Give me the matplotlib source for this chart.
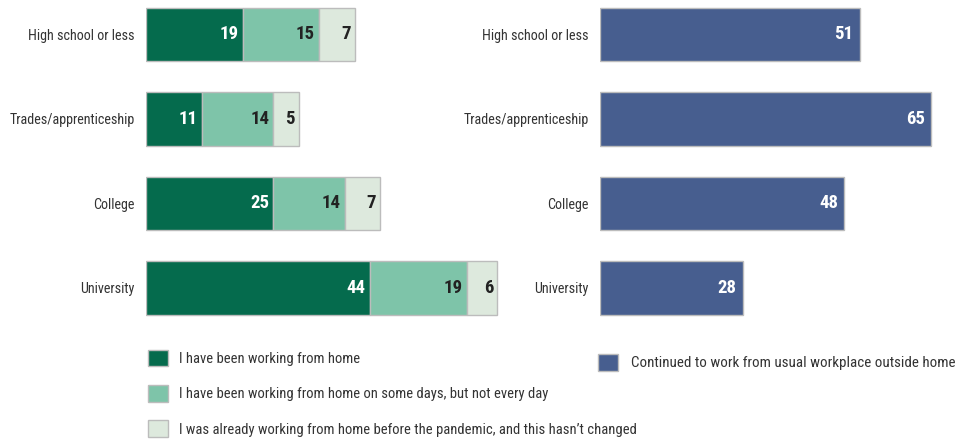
import matplotlib
matplotlib.use("Agg")
import matplotlib.pyplot as plt
from matplotlib.patches import Patch

plt.rcParams["font.family"] = ["Roboto Condensed", "DejaVu Sans"]
plt.rcParams["font.stretch"] = "condensed"

# data
categories = ["High school or less", "Trades/apprenticeship", "College", "University"]
wfh_full = [19, 11, 25, 44]
wfh_some = [15, 14, 14, 19]
wfh_before = [7, 5, 7, 6]
usual_workplace = [51, 65, 48, 28]

series_labels = [
    "I have been working from home",
    "I have been working from home on some days, but not every day",
    "I was already working from home before the pandemic, and this hasn\u2019t changed",
]
right_label = "Continued to work from usual workplace outside home"

colors = ["#056b4d", "#7ec4a9", "#dde9dd"]
text_colors = ["white", "#222222", "#222222"]
blue = "#475e8f"
edge = "#bcbcbc"

W, H = 964, 442
fig = plt.figure(figsize=(W / 100, H / 100), dpi=100)

bar_h = 0.63
ymin, ymax = -0.408, 3.497
xmax = 70


def px_axes(x0, x1, y0, y1):
    return fig.add_axes([x0 / W, 1 - y1 / H, (x1 - x0) / W, (y1 - y0) / H])


ax1 = px_axes(146, 146 + xmax * 5.09, 0, 330)
ax2 = px_axes(600, 600 + xmax * 5.09, 0, 330)

ypos = list(range(len(categories)))

left = [0] * len(categories)
for vals, c, tc in zip([wfh_full, wfh_some, wfh_before], colors, text_colors):
    bars = ax1.barh(ypos, vals, left=left, height=bar_h, color=c,
                    edgecolor=edge, linewidth=1)
    for b, v in zip(bars, vals):
        ax1.annotate(str(v), (b.get_x() + b.get_width(), b.get_y() + b.get_height() / 2),
                     xytext=(-3, 0), textcoords="offset points", ha="right",
                     va="center", color=tc, fontsize=13.5, fontweight="bold")
    left = [l + v for l, v in zip(left, vals)]

bars = ax2.barh(ypos, usual_workplace, height=bar_h, color=blue,
                edgecolor=edge, linewidth=1)
for b, v in zip(bars, usual_workplace):
    ax2.annotate(str(v), (b.get_width(), b.get_y() + b.get_height() / 2),
                 xytext=(-4.5, 0), textcoords="offset points", ha="right",
                 va="center", color="white", fontsize=13.5, fontweight="bold")

for ax in (ax1, ax2):
    ax.set_xlim(0, xmax)
    ax.set_ylim(ymax, ymin)
    ax.set_yticks(ypos)
    ax.set_yticklabels(categories, fontsize=10.2, color="#333333")
    ax.tick_params(axis="y", length=0, pad=8)
    ax.set_xticks([])
    for s in ax.spines.values():
        s.set_visible(False)
    ax.patch.set_alpha(0)

h1 = [Patch(facecolor=c, edgecolor=edge) for c in colors]
fig.legend(h1, series_labels, loc="upper left", bbox_to_anchor=(142 / W, 1 - 344 / H),
           frameon=False, fontsize=10.5, labelcolor="#333333",
           handlelength=1.35, handleheight=1.35, handletextpad=0.8,
           labelspacing=1.3, borderaxespad=0)
fig.legend([Patch(facecolor=blue, edgecolor=edge)], [right_label], loc="upper left",
           bbox_to_anchor=(592 / W, 1 - 348 / H), frameon=False, fontsize=10.8,
           labelcolor="#333333", handlelength=1.35, handleheight=1.35,
           handletextpad=0.85, borderaxespad=0)

fig.savefig("out.png", dpi=100)
